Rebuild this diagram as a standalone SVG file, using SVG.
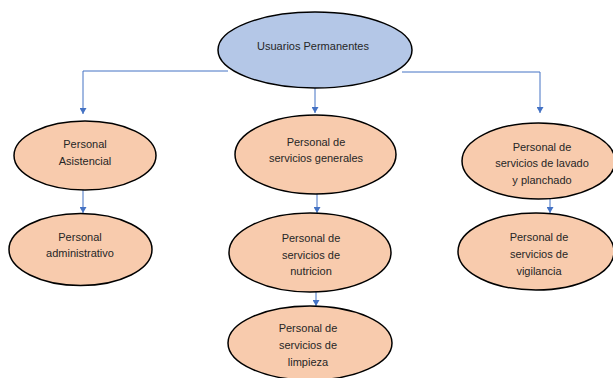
<svg xmlns="http://www.w3.org/2000/svg" width="613" height="378" viewBox="0 0 613 378">
<defs>
<style>
.top{fill:#B4C7E7;stroke:#000;stroke-width:1.5}
.node{fill:#F8CBAD;stroke:#000;stroke-width:1.5}
.lbl{font-family:"Liberation Sans",Arial,sans-serif;font-size:11px;fill:#262626;text-anchor:middle}
.con{stroke:#4472C4;stroke-width:1;fill:none}
</style>
<marker id="arr" markerWidth="7" markerHeight="7" refX="6" refY="3.5" orient="auto" markerUnits="userSpaceOnUse">
<path d="M0,0 L6,3.5 L0,7 Z" fill="#4472C4"/>
</marker>
</defs>
<rect width="613" height="378" fill="#fff"/>
<g id="connectors">
<path class="con" d="M228,71 L83,71 L83,114" marker-end="url(#arr)"/>
<path class="con" d="M315,88 L315,113" marker-end="url(#arr)"/>
<path class="con" d="M402,72 L540,72 L540,113" marker-end="url(#arr)"/>
<path class="con" d="M83,190 L83,213" marker-end="url(#arr)"/>
<path class="con" d="M317,188 L317,213" marker-end="url(#arr)"/>
<path class="con" d="M316,282 L316,306" marker-end="url(#arr)"/>
<path class="con" d="M550,193 L550,213" marker-end="url(#arr)"/>
</g>
<g id="usuarios">
<ellipse class="top" cx="315" cy="50" rx="97" ry="38"/>
<text class="lbl" x="313" y="50">Usuarios Permanentes</text>
</g>
<g id="asistencial">
<ellipse class="node" cx="85" cy="155.5" rx="71" ry="34.5"/>
<text class="lbl" x="85" y="148">Personal</text>
<text class="lbl" x="85" y="165">Asistencial</text>
</g>
<g id="administrativo">
<ellipse class="node" cx="80.5" cy="249.5" rx="71.5" ry="36"/>
<text class="lbl" x="80" y="241">Personal</text>
<text class="lbl" x="80" y="257">administrativo</text>
</g>
<g id="generales">
<ellipse class="node" cx="315.5" cy="154.5" rx="80.5" ry="39.5"/>
<text class="lbl" x="316" y="146">Personal de</text>
<text class="lbl" x="316" y="162">servicios generales</text>
</g>
<g id="nutricion">
<ellipse class="node" cx="310" cy="252.5" rx="81" ry="39.5"/>
<text class="lbl" x="311" y="242">Personal de</text>
<text class="lbl" x="311" y="259">servicios de</text>
<text class="lbl" x="311" y="275">nutricion</text>
</g>
<g id="limpieza">
<ellipse class="node" cx="310" cy="343" rx="82" ry="37"/>
<text class="lbl" x="308" y="332">Personal de</text>
<text class="lbl" x="308" y="349">servicios de</text>
<text class="lbl" x="308" y="366">limpieza</text>
</g>
<g id="lavado">
<ellipse class="node" cx="538.5" cy="161" rx="76.5" ry="38"/>
<text class="lbl" x="542" y="151">Personal de</text>
<text class="lbl" x="542" y="167">servicios de lavado</text>
<text class="lbl" x="542" y="184">y planchado</text>
</g>
<g id="vigilancia">
<ellipse class="node" cx="536" cy="251.5" rx="78" ry="38.5"/>
<text class="lbl" x="539" y="241">Personal de</text>
<text class="lbl" x="539" y="258">servicios de</text>
<text class="lbl" x="539" y="275">vigilancia</text>
</g>
</svg>
